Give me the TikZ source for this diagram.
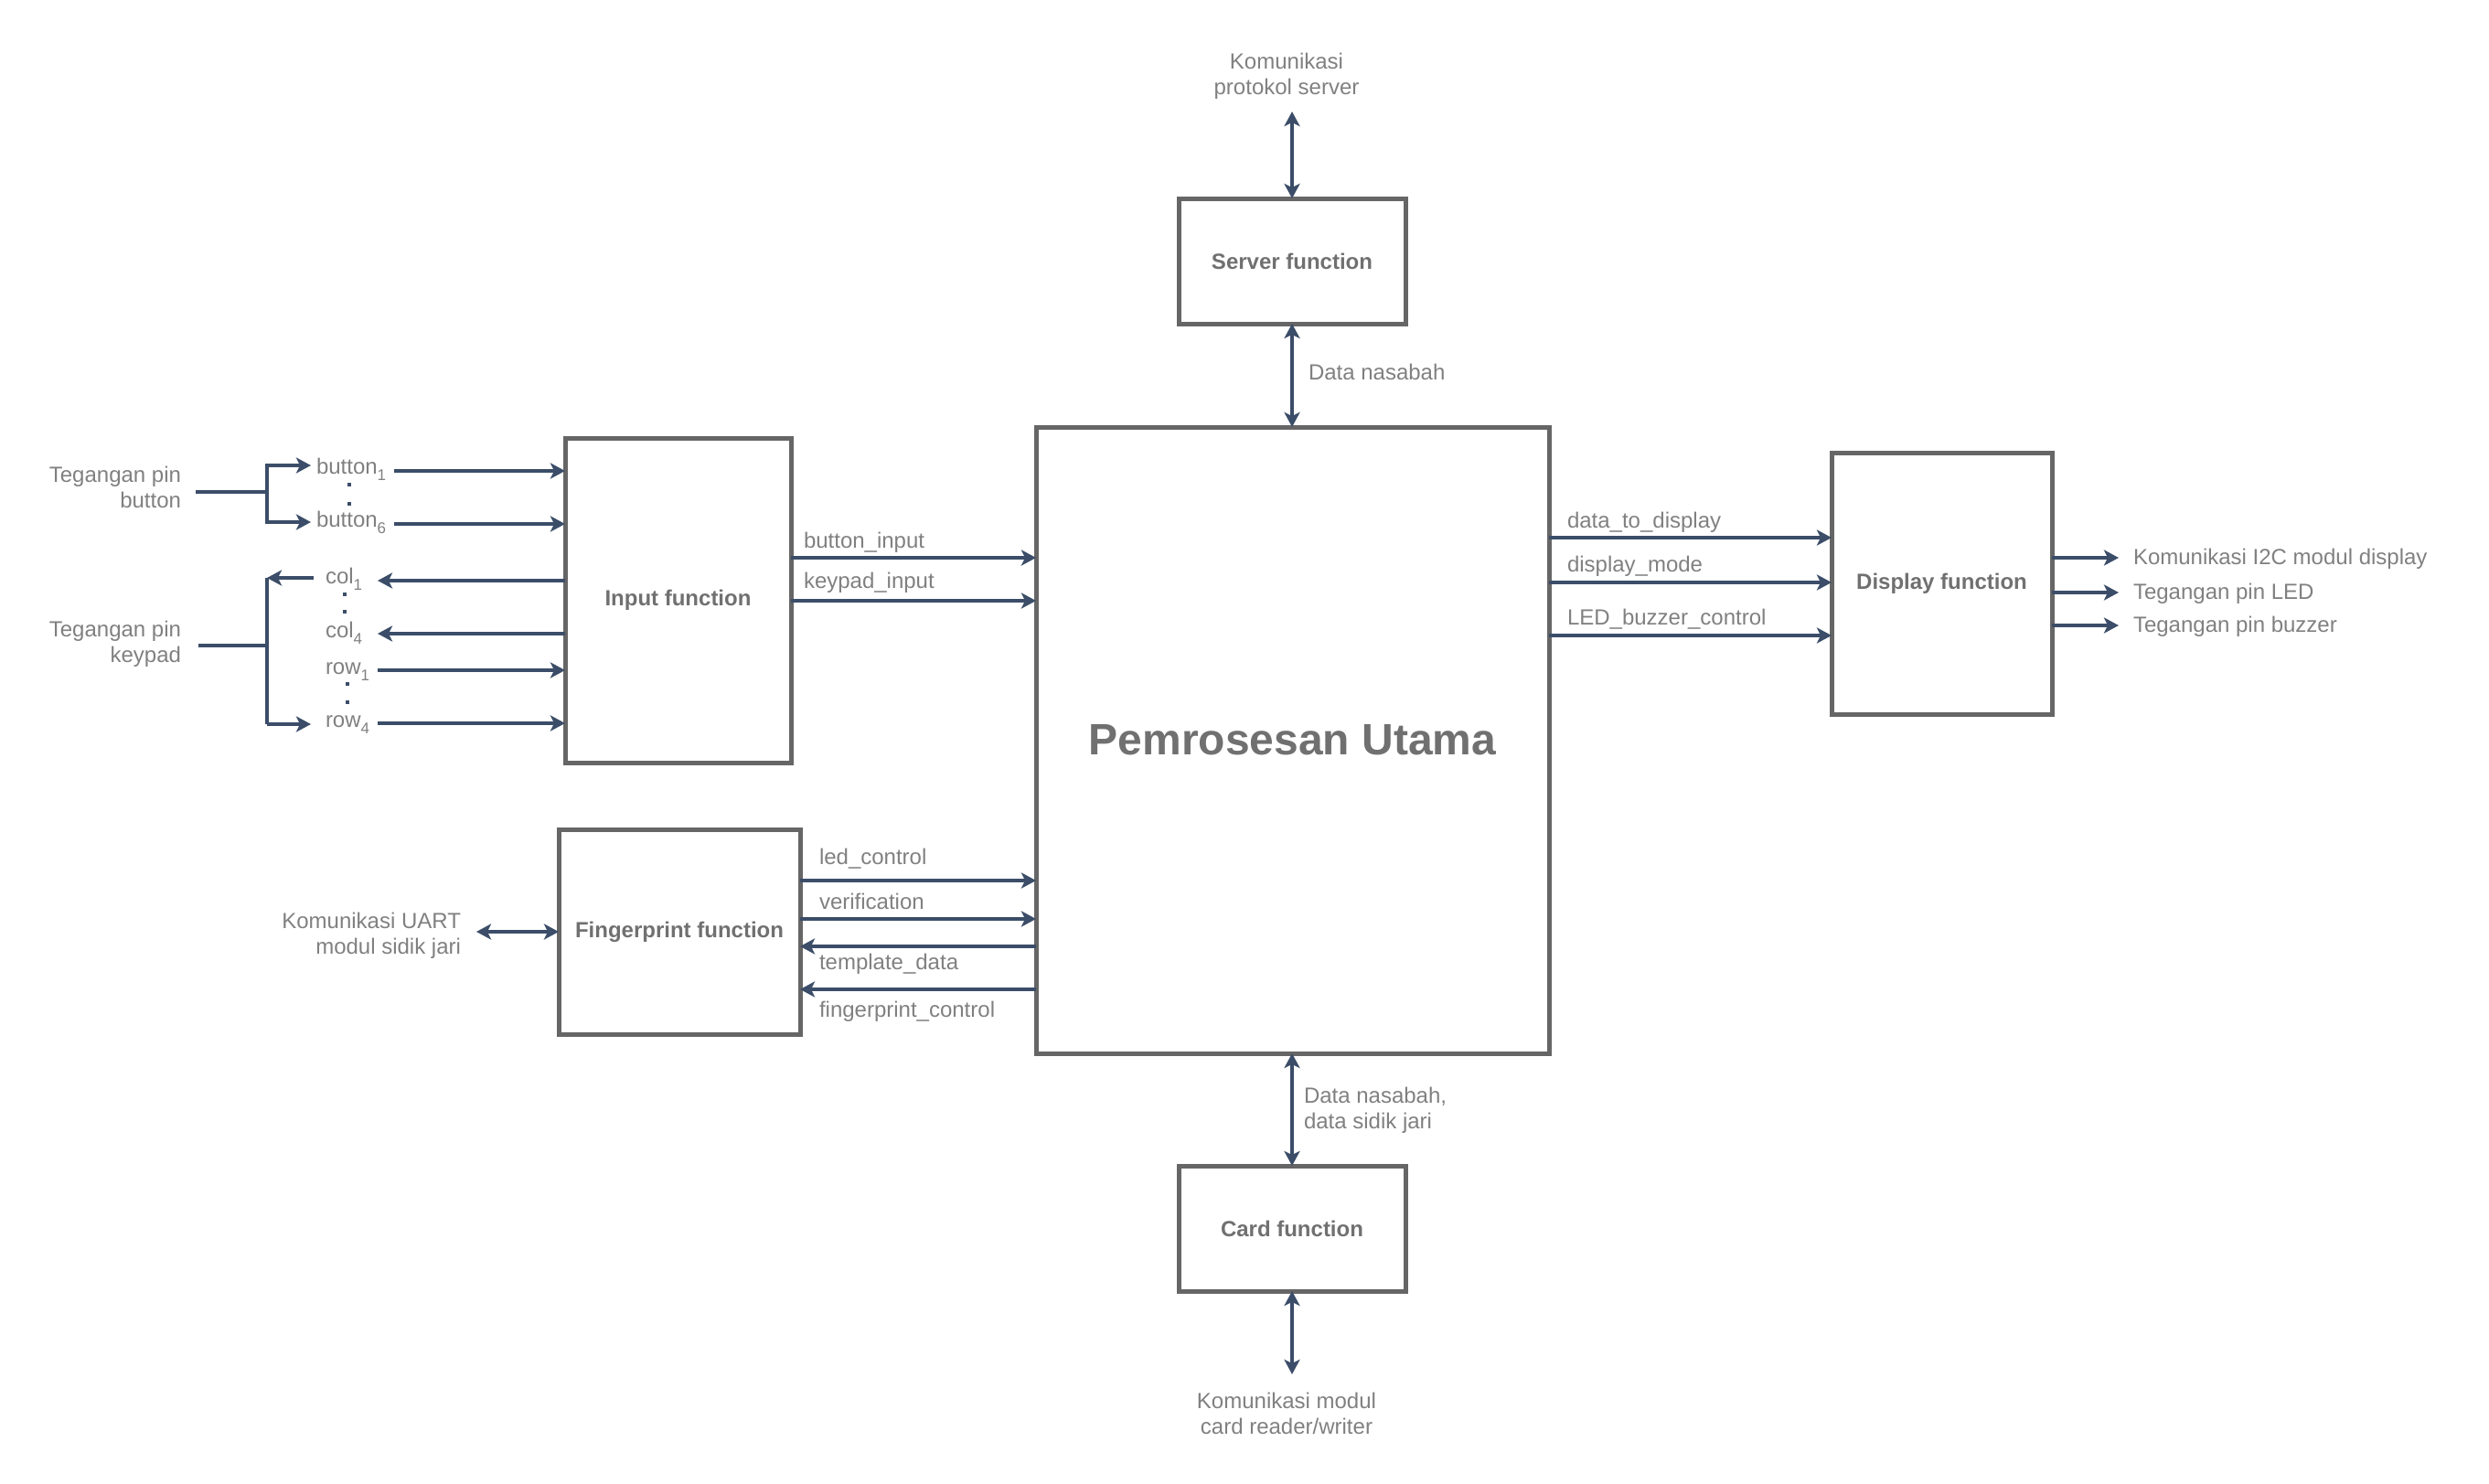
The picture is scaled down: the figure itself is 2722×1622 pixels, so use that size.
\documentclass[tikz,border=0pt]{standalone}
\usepackage{fontspec}
\setmainfont{Liberation Sans}
\usetikzlibrary{arrows.meta,calc}
\definecolor{boxc}{HTML}{666666}
\definecolor{arrc}{HTML}{3B4D68}
\definecolor{txtc}{HTML}{808080}
\definecolor{ttlc}{HTML}{707070}
\newcommand{\sbs}[1]{\raisebox{-7pt}{\fontsize{17}{17}\selectfont #1}}
\tikzset{
  blk/.style={draw=boxc,line width=5pt,inner sep=0pt,outer sep=0pt,font=\fontsize{24}{28}\selectfont\bfseries,text=ttlc},
  lbltwo/.style={inner sep=0pt,outer sep=0pt,font=\fontsize{24}{28}\selectfont,text=txtc},
  lbl/.style={lbltwo,text height=17pt,text depth=5pt},
  tip/.tip={Stealth[length=16pt,width=17pt,inset=4pt]},
  arr/.style={draw=arrc,line width=4pt,-tip},
  darr/.style={draw=arrc,line width=4pt,tip-tip},
  ln/.style={draw=arrc,line width=4pt},
  dotc/.style={fill=arrc,minimum size=4pt,inner sep=0pt,outer sep=0pt,draw=none}
}
\begin{document}
\begin{tikzpicture}[x=1pt,y=-1pt,line join=miter]
\useasboundingbox (0,0) rectangle (2722,1622);
% blocks
\node[blk,minimum width=248pt,minimum height=137pt] (server) at (1413,285.5) {Server function};
\node[blk,minimum width=561pt,minimum height=685pt,font=\fontsize{48}{56}\selectfont\bfseries,text=ttlc] (main) at (1413.5,809.5) {Pemrosesan Utama};
\node[blk,minimum width=247pt,minimum height=355pt] (input) at (741.5,656.5) {Input function};
\node[blk,minimum width=264pt,minimum height=224pt] (finger) at (743,1019) {Fingerprint function};
\node[blk,minimum width=241pt,minimum height=286pt] (disp) at (2123.5,638) {Display function};
\node[blk,minimum width=248pt,minimum height=137pt] (card) at (1413,1343.5) {Card function};
% server
\node[lbltwo,align=center] (srvtxt) at (1407,83) {Komunikasi\\protokol server};
\coordinate (srvtop) at (1413,122);
\draw[darr] (srvtop) -- (server.north);
\draw[darr] (server.south) -- (server.south |- main.north);
\node[lbl,anchor=west] (dn1) at (1431,409) {Data nasabah};
% card
\draw[darr] (card.north |- main.south) -- (card.north);
\node[lbltwo,anchor=west,align=left] (dn2) at (1426,1214) {Data nasabah,\\data sidik jari};
\coordinate (cardbot) at (1413,1503);
\draw[darr] (card.south) -- (cardbot);
\node[lbltwo,align=center] (cardtxt) at (1407,1546) {Komunikasi modul\\card reader/writer};
% input -> main
\node[lbl,anchor=west] (bi) at (879,593) {button\_input};
\node[lbl,anchor=west] (ki) at (879,637) {keypad\_input};
\draw[arr] (input.east |- 0,610) -- (main.west |- 0,610);
\draw[arr] (input.east |- 0,657) -- (main.west |- 0,657);
% fingerprint
\draw[arr] (finger.east |- 0,963) -- (main.west |- 0,963);
\draw[arr] (finger.east |- 0,1005) -- (main.west |- 0,1005);
\draw[arr] (main.west |- 0,1035) -- (finger.east |- 0,1035);
\draw[arr] (main.west |- 0,1082) -- (finger.east |- 0,1082);
\node[lbl,anchor=west] (lc) at (896,939) {led\_control};
\node[lbl,anchor=west] (ver) at (896,988) {verification};
\node[lbl,anchor=west] (td) at (896,1054) {template\_data};
\node[lbl,anchor=west] (fc) at (896,1106) {fingerprint\_control};
\node[lbltwo,anchor=east,align=right] (uart) at (504,1023) {Komunikasi UART\\modul sidik jari};
\coordinate (uartend) at (521,1019);
\draw[darr] (uartend) -- (finger.west);
% display
\draw[arr] (main.east |- 0,588) -- (disp.west |- 0,588);
\draw[arr] (main.east |- 0,637) -- (disp.west |- 0,637);
\draw[arr] (main.east |- 0,695) -- (disp.west |- 0,695);
\node[lbl,anchor=west] (dtd) at (1714,571) {data\_to\_display};
\node[lbl,anchor=west] (dm) at (1714,619) {display\_mode};
\node[lbl,anchor=west] (lbc) at (1714,677) {LED\_buzzer\_control};
\node[lbl,anchor=west] (o1) at (2333,611) {Komunikasi I2C modul display};
\node[lbl,anchor=west] (o2) at (2333,649) {Tegangan pin LED};
\node[lbl,anchor=west] (o3) at (2333,685) {Tegangan pin buzzer};
\draw[arr] (disp.east |- 0,610) -- ([xshift=-16pt]o1.west |- 0,610);
\draw[arr] (disp.east |- 0,648) -- ([xshift=-16pt]o2.west |- 0,648);
\draw[arr] (disp.east |- 0,684) -- ([xshift=-16pt]o3.west |- 0,684);
% buttons
\node[lbltwo,anchor=east,align=right] (tpb) at (198,533) {Tegangan pin\\button};
\coordinate (bsrc) at (214,538);
\coordinate (bjoin) at (292,538);
\node[lbl,anchor=west] (b1) at (346,512) {button\sbs{1}};
\node[lbl,anchor=west] (b6) at (346,570) {button\sbs{6}};
\draw[ln] (bsrc) -- (bjoin);
\draw[arr] (bjoin) |- (340,509);
\draw[arr] (bjoin) |- (340,571);
\draw[arr] (431,515) -- (input.west |- 0,515);
\draw[arr] (431,573) -- (input.west |- 0,573);
\node[dotc] (bd1) at (382,530) {};
\node[dotc] (bd2) at (382,551) {};
% keypad
\node[lbltwo,anchor=east,align=right] (tpk) at (198,704) {Tegangan pin\\keypad};
\coordinate (ksrc) at (217,706);
\coordinate (kjoin) at (292,706);
\coordinate (ktop) at (292,632);
\coordinate (kbot) at (292,792);
\node[lbl,anchor=west] (c1) at (356,632) {col\sbs{1}};
\node[lbl,anchor=west] (c4) at (356,691) {col\sbs{4}};
\node[lbl,anchor=west] (r1) at (356,731) {row\sbs{1}};
\node[lbl,anchor=west] (r4) at (356,789) {row\sbs{4}};
\draw[ln] (ksrc) -- (kjoin);
\draw[ln] (ktop) -- (kbot);
\draw[arr] (343,632) -- (ktop);
\draw[arr] (kbot) -- (340,792);
\draw[arr] (input.west |- 0,635) -- (413,635);
\draw[arr] (input.west |- 0,693) -- (413,693);
\draw[arr] (413,733) -- (input.west |- 0,733);
\draw[arr] (413,791) -- (input.west |- 0,791);
\node[dotc] (cd1) at (377,650) {};
\node[dotc] (cd2) at (377,669) {};
\node[dotc] (rd1) at (380,748) {};
\node[dotc] (rd2) at (380,768) {};
\end{tikzpicture}
\end{document}
